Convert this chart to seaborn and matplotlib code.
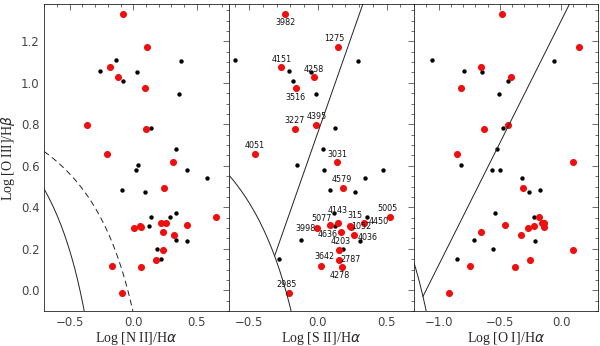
import numpy as np
import pandas as pd
import seaborn as sns
import matplotlib.pyplot as plt
from matplotlib.ticker import MultipleLocator

# red galaxies (labelled in the [S II] panel)
names = ["3982", "1275", "4151", "4258", "3516", "4395", "3227", "4051", "3031",
         "4579", "5005", "4143", "4450", "5077", "315", "1052", "3998", "4636",
         "4036", "4203", "2787", "3642", "4278", "2985"]
red_oiii = [1.332, 1.175, 1.074, 1.026, 0.974, 0.797, 0.776, 0.658, 0.618, 0.491,
            0.354, 0.326, 0.326, 0.314, 0.311, 0.307, 0.298, 0.280, 0.268, 0.192,
            0.148, 0.119, 0.114, -0.013]
red_nii = [-0.077, 0.107, -0.182, -0.117, 0.091, -0.366, 0.099, -0.208, 0.314, 0.246,
           0.653, 0.217, 0.259, 0.427, 0.054, 0.062, 0.009, 0.238, 0.322, 0.238,
           0.178, -0.167, 0.062, -0.085]
red_sii = [-0.241, 0.145, -0.266, -0.029, -0.161, -0.016, -0.166, -0.456, 0.142, 0.186,
           0.522, 0.150, 0.338, 0.089, 0.236, 0.243, -0.004, 0.167, 0.260, 0.157,
           0.153, 0.023, 0.175, -0.212]
red_oi = [-0.485, 0.147, -0.654, -0.412, -0.819, -0.436, -0.629, -0.847, 0.098, -0.314,
          -0.179, -0.159, -0.138, -0.461, -0.222, -0.140, -0.268, -0.651, -0.328, 0.093,
          -0.252, -0.741, -0.379, -0.917]

# black galaxies (unlabelled)
blk_oiii = [1.110, 1.106, 1.057, 1.052, 1.010, 0.948, 0.781, 0.681, 0.605, 0.578, 0.578,
            0.540, 0.483, 0.473, 0.374, 0.353, 0.353, 0.311, 0.242, 0.238, 0.201, 0.151]
blk_nii = [-0.137, 0.375, -0.261, 0.033, -0.077, 0.364, 0.141, 0.338, 0.041, 0.023, 0.422,
           0.584, -0.085, 0.091, 0.340, 0.138, 0.288, 0.127, 0.340, 0.422, 0.186, 0.220]
blk_sii = [-0.603, 0.292, -0.212, -0.048, -0.178, -0.012, 0.126, 0.035, -0.148, 0.043, 0.473,
           0.346, 0.089, 0.267, 0.118, 0.358, 0.522, 0.126, -0.124, 0.304, 0.186, -0.283]
blk_oi = [-1.056, -0.059, -0.790, -0.648, -0.436, -0.505, -0.472, -0.526, -0.819, -0.562, -0.499,
          -0.320, -0.171, -0.260, -0.542, -0.224, -0.179, -0.222, -0.713, -0.214, -0.559, -0.847]

# label offsets (pixels) from each red point in the [S II] panel
label_dx = [1, -3, 0, 0, 0, 1, 0, 0, 0, -2, -2, -1, 14, -8, 5, 10, -12, -13, 14, 1, 12, 4, -2, -2]
label_dy = [-9, 8, 8, 8, -9, 8, 9, 8, 8, 9, 8, 12, 1, 7, 10, 0, 0, -2, -3, 9, 0, 9, -9, 8]

red = pd.DataFrame({'name': names, 'oiii': red_oiii, 'nii': red_nii,
                    'sii': red_sii, 'oi': red_oi})
blk = pd.DataFrame({'oiii': blk_oiii, 'nii': blk_nii, 'sii': blk_sii, 'oi': blk_oi})

sns.set_style("white")
plt.rcParams['font.family'] = ['DejaVu Sans']
plt.rcParams['axes.linewidth'] = 0.6
plt.rcParams['axes.edgecolor'] = '#222222'

fig = plt.figure(figsize=(6, 3.46), dpi=100)
bottom, height = 35 / 346, 307 / 346
edges = [44.3, 228.5, 414, 598]
xlims = [(-0.7, 0.75), (-0.65, 0.7), (-1.2, 0.3)]
xcols = ['nii', 'sii', 'oi']
xlabels = [r'Log [N II]/H$\alpha$', r'Log [S II]/H$\alpha$', r'Log [O I]/H$\alpha$']
serif = {'family': 'Liberation Serif', 'size': 10}

axes = []
for i in range(3):
    ax = fig.add_axes([edges[i] / 600, bottom, (edges[i + 1] - edges[i]) / 600, height])
    sns.scatterplot(data=blk, x=xcols[i], y='oiii', ax=ax, color='black', s=10,
                    linewidth=0, legend=False)
    sns.scatterplot(data=red, x=xcols[i], y='oiii', ax=ax, color='#ee0f0f', s=26,
                    linewidth=0, legend=False)
    ax.set_xlim(*xlims[i])
    ax.set_ylim(-0.1, 1.38)
    ax.xaxis.set_major_locator(MultipleLocator(0.5))
    ax.xaxis.set_minor_locator(MultipleLocator(0.1))
    ax.yaxis.set_major_locator(MultipleLocator(0.2))
    ax.yaxis.set_minor_locator(MultipleLocator(0.05))
    ax.tick_params(which='both', direction='in', top=True, right=True, width=0.5,
                   color='#333333', labelsize=8.5, labelcolor='#444444')
    ax.tick_params(which='major', length=4.5)
    ax.tick_params(which='minor', length=2.3)
    ax.set_xlabel(xlabels[i], fontdict=serif, labelpad=1)
    if i == 0:
        ax.set_ylabel(r'Log [O III]/H$\beta$', fontdict=serif, labelpad=3)
    else:
        ax.set_ylabel('')
        ax.tick_params(labelleft=False)
    axes.append(ax)

lw = 0.7
lc = '#222222'
# [N II] panel: Kauffmann (solid) and Kewley (dashed)
x1 = np.linspace(-0.7, 0.0, 300)
axes[0].plot(x1, 0.61 / (x1 - 0.05) + 1.3, color=lc, lw=lw)
x1b = np.linspace(-0.7, 0.3, 300)
axes[0].plot(x1b, 0.61 / (x1b - 0.47) + 1.19, color=lc, lw=lw, ls=(0, (6, 4)))

# [S II] panel: Kewley curve plus Seyfert/LINER line from where they meet
x2 = np.linspace(-0.65, 0.1, 300)
axes[1].plot(x2, 0.72 / (x2 - 0.32) + 1.30, color=lc, lw=lw)
x2i = np.roots([1.89, -1.1448, -0.5472]).real.min()
x2l = np.linspace(x2i, 0.5, 50)
axes[1].plot(x2l, 1.89 * x2l + 0.76, color=lc, lw=lw)

# [O I] panel
x3 = np.linspace(-1.2, -0.7, 300)
axes[2].plot(x3, 0.73 / (x3 + 0.59) + 1.33, color=lc, lw=lw)
x3i = np.roots([1.18, 0.6662, -0.7477]).real.min()
x3l = np.linspace(x3i, 0.2, 50)
axes[2].plot(x3l, 1.18 * x3l + 1.30, color=lc, lw=lw)

for i in range(len(names)):
    axes[1].annotate(names[i], (red_sii[i], red_oiii[i]),
                     xytext=(label_dx[i], label_dy[i]), textcoords='offset pixels',
                     ha='center', va='center', fontsize=5.8, color='#111111')

fig.savefig('out.png', dpi=100)
